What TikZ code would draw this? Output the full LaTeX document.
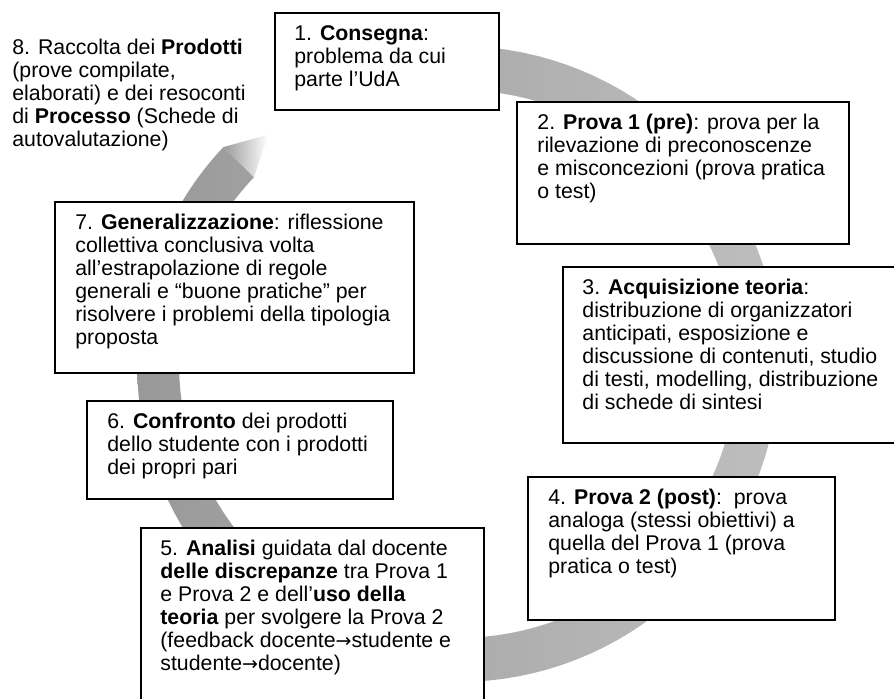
\documentclass[tikz,border=0pt]{standalone}
\usepackage{fontspec}
\setmainfont{Liberation Sans}
\newfontfamily\arrowfont{DejaVu Sans}
\usepackage{xcolor}
\definecolor{ringdark}{HTML}{999999}
\definecolor{ringlight}{HTML}{BEBEBE}
\definecolor{headdark}{HTML}{9A9A9A}
\usepackage{tikz}
\usetikzlibrary{positioning,calc}
\newcommand{\tofeed}{{\arrowfont\fontsize{9.5}{11}\selectfont →}}

\begin{document}
\begin{tikzpicture}[x=0.5pt, y=-0.5pt,
    stepbox/.style={draw=black, line width=0.9pt, fill=white, anchor=north west, inner sep=0pt},
    steptext/.style={anchor=north west, inner sep=0pt, align=left, font=\fontsize{10.65}{11.45}\selectfont}]
  \useasboundingbox (0,0) rectangle (894,698);
  \shade[left color=ringdark, right color=ringlight]
    plot[domain=100:-223, samples=120] ({458+321*cos(\x)},{364-318*sin(\x)})
    -- plot[domain=-223:100, samples=120] ({458+279*cos(\x)},{364-274*sin(\x)}) -- cycle;
  \coordinate (headout) at ({458+321*cos(-223)},{364-318*sin(-223)});
  \coordinate (headin) at ({458+279*cos(-223)},{364-274*sin(-223)});
  \coordinate (headtip) at ({458+300*cos(-230.8)},{364-296*sin(-230.8)});
  \shade[left color=headdark, right color=white] (headout) -- (headtip) -- (headin) -- cycle;

  \node[stepbox, minimum width=112pt, minimum height=48.5pt] (b1) at (274,12) {};
  \node[steptext] (t1) at ([shift={(10pt,-6.5pt)}]b1.north west)
    {1. \textbf{Consegna}:\\problema da cui\\parte l’UdA};
  \node[stepbox, minimum width=166pt, minimum height=71pt] (b2) at (516,101) {};
  \node[steptext] (t2) at ([shift={(10.5pt,-6.5pt)}]b2.north west)
    {2. \textbf{Prova 1 (pre)}: prova per la\\rilevazione di preconoscenze\\e misconcezioni (prova pratica\\o test)};
  \node[stepbox, minimum width=172pt, minimum height=88pt] (b3) at (562,266) {};
  \node[steptext] (t3) at ([shift={(10pt,-6.5pt)}]b3.north west)
    {3. \textbf{Acquisizione teoria}:\\distribuzione di organizzatori\\anticipati, esposizione e\\discussione di contenuti, studio\\di testi, modelling, distribuzione\\di schede di sintesi};
  \node[stepbox, minimum width=153.5pt, minimum height=71.5pt] (b4) at (527,476) {};
  \node[steptext] (t4) at ([shift={(10.5pt,-6.5pt)}]b4.north west)
    {4. \textbf{Prova 2 (post)}:\ \ prova\\analoga (stessi obiettivi) a\\quella del Prova 1 (prova\\pratica o test)};
  \node[stepbox, minimum width=171.5pt, minimum height=90pt] (b5) at (140,527) {};
  \node[steptext] (t5) at ([shift={(10pt,-6.5pt)}]b5.north west)
    {5. \textbf{Analisi} guidata dal docente\\\textbf{delle discrepanze} tra Prova 1\\e Prova 2 e dell’\textbf{uso della}\\\textbf{teoria} per svolgere la Prova 2\\(feedback docente\tofeed studente e\\studente\tofeed docente)};
  \node[stepbox, minimum width=153pt, minimum height=49pt] (b6) at (86,400) {};
  \node[steptext] (t6) at ([shift={(10.5pt,-6.5pt)}]b6.north west)
    {6. \textbf{Confronto} dei prodotti\\dello studente con i prodotti\\dei propri pari};
  \node[stepbox, minimum width=179.5pt, minimum height=85.5pt] (b7) at (54,201) {};
  \node[steptext] (t7) at ([shift={(10.5pt,-6.5pt)}]b7.north west)
    {7. \textbf{Generalizzazione}: riflessione\\collettiva conclusiva volta\\all’estrapolazione di regole\\generali e “buone pratiche” per\\risolvere i problemi della tipologia\\proposta};
  \node[steptext] (t8) at (12,39)
    {8. Raccolta dei \textbf{Prodotti}\\(prove compilate,\\elaborati) e dei resoconti\\di \textbf{Processo} (Schede di\\autovalutazione)};
\end{tikzpicture}
\end{document}
